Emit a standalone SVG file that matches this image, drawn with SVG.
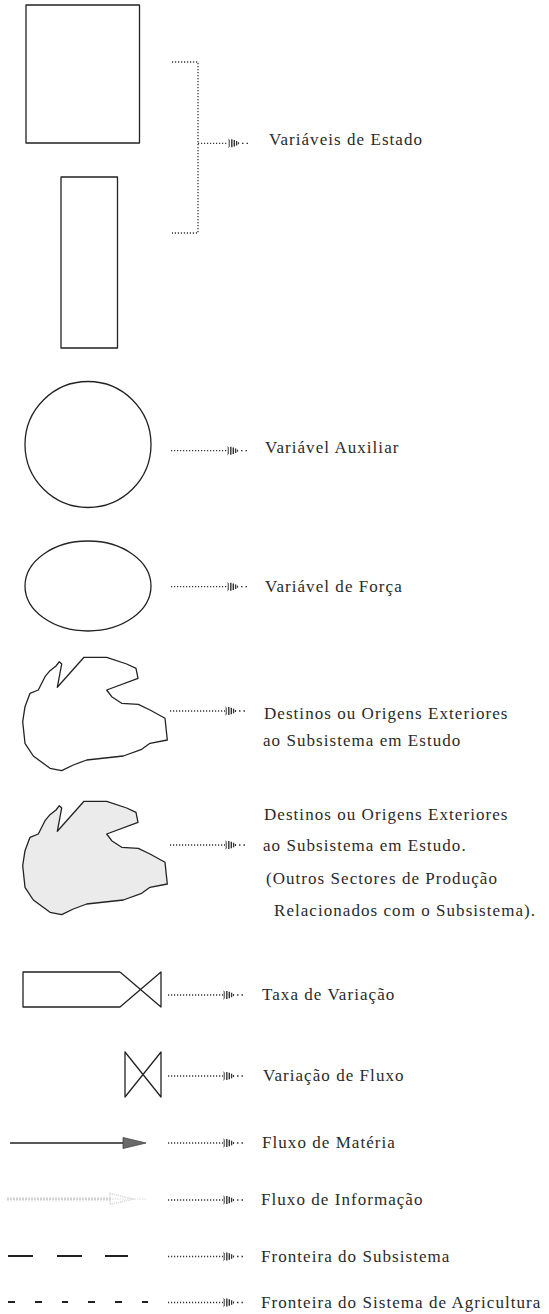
<svg xmlns="http://www.w3.org/2000/svg" width="549" height="1314" viewBox="0 0 549 1314">
<style>
.s{fill:none;stroke:#222;stroke-width:1.3;stroke-linejoin:round}
.t{font-family:"Liberation Serif","Times New Roman",serif;font-size:17px;letter-spacing:1.05px;fill:#2a2a2a}
.d{fill:none;stroke:#333;stroke-width:1.3;stroke-dasharray:1.2 1.8}
.b{fill:none;stroke:#222;stroke-width:2}
</style>
<defs>
<g id="tip" stroke="#333" fill="none">
<path d="M0.5,-4 L1.2,-3.5 L1.2,3.5 L0.5,4" stroke-width="1"/>
<line x1="3.8" y1="-4" x2="3.8" y2="4" stroke-width="1.4"/>
<line x1="6.3" y1="-3.3" x2="6.3" y2="3.3" stroke-width="1.4"/>
<line x1="8.6" y1="-2.3" x2="8.6" y2="2.3" stroke-width="1.3"/>
<line x1="10.5" y1="-1" x2="10.5" y2="1" stroke-width="1.2"/>
<line x1="14" y1="0" x2="15.5" y2="0" stroke-width="1.3"/>
<line x1="18.5" y1="0" x2="20" y2="0" stroke-width="1.3"/>
</g>
</defs>

<g id="estado">
<rect class="s" x="26" y="5" width="113.5" height="138"/>
<rect class="s" x="61" y="177" width="56.5" height="171"/>
</g>
<g id="auxiliar"><circle class="s" cx="88" cy="444.5" r="63"/></g>
<g id="forca"><ellipse class="s" cx="88" cy="586" rx="63" ry="45"/></g>
<g id="destinos1"><path class="s" d="M59.3,661.7 L61.7,664 L57.3,687.3 L84,657.3 L106.7,657.3 L126.7,664 L136,668.3 L138,678.3 L106.7,690 L111.7,696.7 L121.7,703.3 L138.3,704.3 L150,710 L165,718.3 L167.3,740 L150,743.3 L141.7,749.3 L123.3,756 L86.7,760 L73.3,765 L61.7,770.7 L50,768.3 L33.3,756 L25,743.3 L22.7,721.7 L25,706.7 L30,693.3 L38.3,690 L45,676.7 L50,670.7 L56,666 Z"/></g>
<g id="destinos2" transform="translate(0,144)"><path class="s" style="fill:#ebebeb" d="M59.3,661.7 L61.7,664 L57.3,687.3 L84,657.3 L106.7,657.3 L126.7,664 L136,668.3 L138,678.3 L106.7,690 L111.7,696.7 L121.7,703.3 L138.3,704.3 L150,710 L165,718.3 L167.3,740 L150,743.3 L141.7,749.3 L123.3,756 L86.7,760 L73.3,765 L61.7,770.7 L50,768.3 L33.3,756 L25,743.3 L22.7,721.7 L25,706.7 L30,693.3 L38.3,690 L45,676.7 L50,670.7 L56,666 Z"/></g>
<g id="taxa"><path class="s" d="M120,972 L23,972 L23,1007 L120,1007 L161,972 L161,1007 L120,972"/></g>
<g id="variacao"><path class="s" d="M125,1052 L161,1097 L161,1052 L125,1097 Z"/></g>
<g id="materia">
<line x1="10" y1="1143" x2="125" y2="1143" stroke="#222" stroke-width="1.3"/>
<path d="M123,1137.5 L146,1143 L123,1148.5 Z" fill="#6a6a6a" stroke="#444" stroke-width="0.8"/>
</g>
<g id="informacao">
<line x1="7" y1="1199" x2="112" y2="1199" stroke="#d2d2d2" stroke-width="3" stroke-dasharray="2 1"/>
<path d="M110,1193.5 L134,1199 L110,1204.5 Z" fill="none" stroke="#d4d4d4" stroke-width="1.5" stroke-dasharray="1 1"/>
<line x1="112" y1="1199" x2="147" y2="1199" stroke="#d8d8d8" stroke-width="1.2" stroke-dasharray="1.5 1"/>
</g>
<g id="fronteira-sub">
<line class="b" x1="8" y1="1256" x2="33" y2="1256"/>
<line class="b" x1="57" y1="1256" x2="82" y2="1256"/>
<line class="b" x1="105" y1="1256" x2="128" y2="1256"/>
</g>
<g id="fronteira-sis">
<line class="b" x1="8" y1="1302" x2="15" y2="1302"/>
<line class="b" x1="35" y1="1302" x2="42" y2="1302"/>
<line class="b" x1="62" y1="1302" x2="68" y2="1302"/>
<line class="b" x1="88" y1="1302" x2="95" y2="1302"/>
<line class="b" x1="115" y1="1302" x2="122" y2="1302"/>
<line class="b" x1="142" y1="1302" x2="148" y2="1302"/>
</g>

<g id="connectors">
<path class="d" d="M172,62 L198,62 L198,233 L172,233"/>
<line class="d" x1="198" y1="143.3" x2="228" y2="143.3"/>
<use href="#tip" x="228" y="143.3"/>
<line class="d" x1="171" y1="450.7" x2="227" y2="450.7"/>
<use href="#tip" x="227" y="450.7"/>
<line class="d" x1="171" y1="586.7" x2="227" y2="586.7"/>
<use href="#tip" x="227" y="586.7"/>
<line class="d" x1="170" y1="711" x2="225" y2="711"/>
<use href="#tip" x="225" y="711"/>
<line class="d" x1="170" y1="845" x2="225" y2="845"/>
<use href="#tip" x="225" y="845"/>
<line class="d" x1="168" y1="995" x2="223" y2="995"/>
<use href="#tip" x="223" y="995"/>
<line class="d" x1="168" y1="1076" x2="223" y2="1076"/>
<use href="#tip" x="223" y="1076"/>
<line class="d" x1="168" y1="1143" x2="223" y2="1143"/>
<use href="#tip" x="223" y="1143"/>
<line class="d" x1="168" y1="1200" x2="223" y2="1200"/>
<use href="#tip" x="223" y="1200"/>
<line class="d" x1="168" y1="1256.5" x2="223" y2="1256.5"/>
<use href="#tip" x="223" y="1256.5"/>
<line class="d" x1="168" y1="1302.5" x2="223" y2="1302.5"/>
<use href="#tip" x="223" y="1302.5"/>
</g>

<g id="labels">
<text class="t" x="269" y="145">Variáveis de Estado</text>
<text class="t" x="265" y="452.5">Variável Auxiliar</text>
<text class="t" x="265" y="591.5">Variável de Força</text>
<text class="t" x="264" y="719">Destinos ou Origens Exteriores</text>
<text class="t" x="263" y="746">ao Subsistema em Estudo</text>
<text class="t" x="264" y="820">Destinos ou Origens Exteriores</text>
<text class="t" x="263" y="851">ao Subsistema em Estudo.</text>
<text class="t" x="266" y="884">(Outros Sectores de Produção</text>
<text class="t" x="274" y="916">Relacionados com o Subsistema).</text>
<text class="t" x="262" y="1000">Taxa de Variação</text>
<text class="t" x="263" y="1081">Variação de Fluxo</text>
<text class="t" x="262" y="1148">Fluxo de Matéria</text>
<text class="t" x="261" y="1205">Fluxo de Informação</text>
<text class="t" x="261" y="1262">Fronteira do Subsistema</text>
<text class="t" x="261" y="1308">Fronteira do Sistema de Agricultura</text>
</g>
</svg>
